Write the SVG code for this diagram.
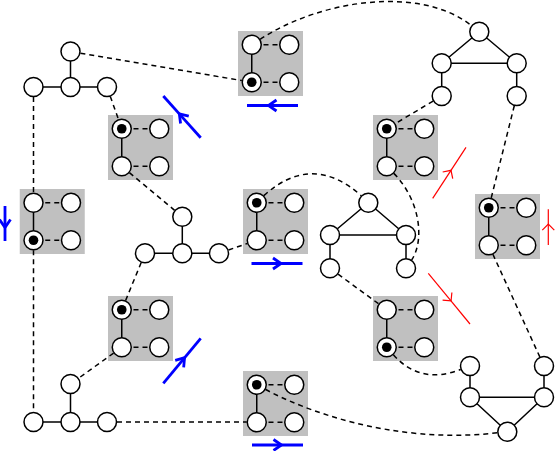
<svg xmlns="http://www.w3.org/2000/svg" width="555" height="451" viewBox="0 0 555 451">
<style>
.n{fill:#fff;stroke:#000;stroke-width:1.5}
.d{fill:#000}
.box{fill:#c0c0c0}
.e{stroke:#000;stroke-width:1.5;fill:none}
.dl{stroke:#000;stroke-width:1.5;fill:none;stroke-dasharray:5,4}
.bl{stroke:#00f;stroke-width:2.8;fill:none;marker-mid:url(#bh)}
.rd{stroke:#f00;stroke-width:1.2;fill:none;marker-mid:url(#rh)}
</style>
<defs>
<marker id="bh" markerUnits="userSpaceOnUse" orient="auto" refX="0" refY="0" markerWidth="14" markerHeight="14" viewBox="-7 -7 14 14" overflow="visible">
<path d="M-4,-5.5 L4,0 L-4,5.5" fill="none" stroke="#00f" stroke-width="2.8"/>
</marker>
<marker id="rh" markerUnits="userSpaceOnUse" orient="auto" refX="0" refY="0" markerWidth="14" markerHeight="14" viewBox="-7 -7 14 14" overflow="visible">
<path d="M-3,-6 L3,0 L-3,6" fill="none" stroke="#f00" stroke-width="1.2"/>
</marker>
<g id="cellbase">
<rect class="box" width="65" height="65"/>
<line class="dl" x1="25.5" y1="13.75" x2="39.5" y2="13.75"/>
<line class="dl" x1="25.5" y1="51.25" x2="39.5" y2="51.25"/>
<line class="e" x1="13.75" y1="13.75" x2="13.75" y2="51.25"/>
<circle class="n" cx="13.75" cy="13.75" r="9.5"/>
<circle class="n" cx="51.25" cy="13.75" r="9.5"/>
<circle class="n" cx="13.75" cy="51.25" r="9.5"/>
<circle class="n" cx="51.25" cy="51.25" r="9.5"/>
</g>
</defs>

<g id="box1" transform="translate(108,115)"><use href="#cellbase"/><circle class="d" cx="13.75" cy="13.75" r="4.8"/></g>
<g id="box2" transform="translate(238,31)"><use href="#cellbase"/><circle class="d" cx="13.75" cy="51.25" r="4.8"/></g>
<g id="box3" transform="translate(19.75,189)"><use href="#cellbase"/><circle class="d" cx="13.75" cy="51.25" r="4.8"/></g>
<g id="box4" transform="translate(243,189)"><use href="#cellbase"/><circle class="d" cx="13.75" cy="13.75" r="4.8"/></g>
<g id="box5" transform="translate(373,115)"><use href="#cellbase"/><circle class="d" cx="13.75" cy="13.75" r="4.8"/></g>
<g id="box6" transform="translate(475,194)"><use href="#cellbase"/><circle class="d" cx="13.75" cy="13.75" r="4.8"/></g>
<g id="box7" transform="translate(108,296)"><use href="#cellbase"/><circle class="d" cx="13.75" cy="13.75" r="4.8"/></g>
<g id="box8" transform="translate(243,371)"><use href="#cellbase"/><circle class="d" cx="13.75" cy="13.75" r="4.8"/></g>
<g id="box9" transform="translate(373,296)"><use href="#cellbase"/><circle class="d" cx="13.75" cy="51.25" r="4.8"/></g>

<g id="connectors">
<!-- solid tree / triangle edges -->
<path class="e" d="M70.5,51.5V87 M33.5,87H107"/>
<path class="e" d="M182.3,216.7V253.3 M145,253.3H219"/>
<path class="e" d="M70.5,384V422 M33.5,422H107"/>
<path class="e" d="M479.3,31.7L441.7,63.3 M479.3,31.7L516.7,63.3 M441.7,63.3H516.7 M441.7,63.3V96 M516.7,63.3V96"/>
<path class="e" d="M368.3,202.7L330,235 M368.3,202.7L406,235 M330,235H406 M330,235V268.3 M406,235V268.3"/>
<path class="e" d="M470,366V397.3 M544,366V397.3 M470,397.3H544 M470,397.3L507.3,431.7 M544,397.3L507.3,431.7"/>
<!-- dashed links -->
<path class="dl" d="M80.4,53.2L241.9,80.6"/>
<path class="dl" d="M110.3,96.4L118.4,119.3"/>
<path class="dl" d="M129.4,172.6L174.6,210.3"/>
<path class="dl" d="M33.5,97V192.75"/>
<path class="dl" d="M33.5,250.25V412"/>
<path class="dl" d="M141.2,262.55L125.6,300.5"/>
<path class="dl" d="M113.6,353.1L78.6,378.2"/>
<path class="dl" d="M117,422H246.75"/>
<path class="dl" d="M228.45,250L247.3,243.5"/>
<path class="dl" d="M263.8,195.65Q312,152 361.2,195.7"/>
<path class="dl" d="M433.1,101.1L395.3,123.6"/>
<path class="dl" d="M260.1,39.3C320,0 420,-15 471.4,25.5"/>
<path class="dl" d="M514.3,105.7L491.2,198.05"/>
<path class="dl" d="M393.8,173.4C420,200 425,240 411.6,260"/>
<path class="dl" d="M338.1,274.2L378.7,303.9"/>
<path class="dl" d="M393.4,354.75Q420,385 460.65,369.55"/>
<path class="dl" d="M492.9,254.3L539.8,356.9"/>
<path class="dl" d="M265.6,389.5C300,408 390,445 497.4,432.8"/>
</g>

<g id="arrows">
<path class="bl" d="M298,105.5L272.5,105.5L247,105.5"/>
<path class="bl" d="M200.7,137.7L182,116.85L163.3,96"/>
<path class="bl" d="M5,206L5,223.5L5,241"/>
<path class="bl" d="M251.5,263.5L277,263.5L302.5,263.5"/>
<path class="bl" d="M163.3,383.3L182,360.8L200.7,338.3"/>
<path class="bl" d="M252,445L277.5,445L303,445"/>
<path class="rd" d="M432.7,198.3L449.35,172.8L466,147.3"/>
<path class="rd" d="M548.3,245L548.3,227.15L548.3,209.3"/>
<path class="rd" d="M428.3,273.3L449.15,298.65L470,324"/>
</g>

<g id="treeA">
<g id="a_top"><circle class="n" cx="70.5" cy="51.5" r="9.5"/></g>
<g id="a_l"><circle class="n" cx="33.5" cy="87" r="9.5"/></g>
<g id="a_m"><circle class="n" cx="70.5" cy="87" r="9.5"/></g>
<g id="a_r"><circle class="n" cx="107" cy="87" r="9.5"/></g>
</g>
<g id="treeB">
<g id="b_top"><circle class="n" cx="182.3" cy="216.7" r="9.5"/></g>
<g id="b_l"><circle class="n" cx="145" cy="253.3" r="9.5"/></g>
<g id="b_m"><circle class="n" cx="182.3" cy="253.3" r="9.5"/></g>
<g id="b_r"><circle class="n" cx="219" cy="253.3" r="9.5"/></g>
</g>
<g id="treeC">
<g id="c_top"><circle class="n" cx="70.5" cy="384" r="9.5"/></g>
<g id="c_l"><circle class="n" cx="33.5" cy="422" r="9.5"/></g>
<g id="c_m"><circle class="n" cx="70.5" cy="422" r="9.5"/></g>
<g id="c_r"><circle class="n" cx="107" cy="422" r="9.5"/></g>
</g>
<g id="triD">
<g id="d_top"><circle class="n" cx="479.3" cy="31.7" r="9.5"/></g>
<g id="d_l"><circle class="n" cx="441.7" cy="63.3" r="9.5"/></g>
<g id="d_r"><circle class="n" cx="516.7" cy="63.3" r="9.5"/></g>
<g id="d_bl"><circle class="n" cx="441.7" cy="96" r="9.5"/></g>
<g id="d_br"><circle class="n" cx="516.7" cy="96" r="9.5"/></g>
</g>
<g id="triE">
<g id="e_top"><circle class="n" cx="368.3" cy="202.7" r="9.5"/></g>
<g id="e_l"><circle class="n" cx="330" cy="235" r="9.5"/></g>
<g id="e_r"><circle class="n" cx="406" cy="235" r="9.5"/></g>
<g id="e_bl"><circle class="n" cx="330" cy="268.3" r="9.5"/></g>
<g id="e_br"><circle class="n" cx="406" cy="268.3" r="9.5"/></g>
</g>
<g id="triF">
<g id="f_tl"><circle class="n" cx="470" cy="366" r="9.5"/></g>
<g id="f_tr"><circle class="n" cx="544" cy="366" r="9.5"/></g>
<g id="f_ml"><circle class="n" cx="470" cy="397.3" r="9.5"/></g>
<g id="f_mr"><circle class="n" cx="544" cy="397.3" r="9.5"/></g>
<g id="f_b"><circle class="n" cx="507.3" cy="431.7" r="9.5"/></g>
</g>
</svg>
